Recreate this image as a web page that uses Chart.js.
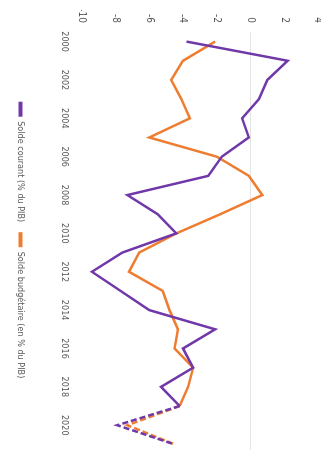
<!DOCTYPE html>
<html>
<head>
<meta charset="utf-8">
<script src="https://cdn.jsdelivr.net/npm/chart.js@4"></script>
<style>
  html, body { margin: 0; padding: 0; background: #fff; overflow: hidden; }
  body { width: 321px; height: 450px; position: relative; }
  /* the reference is turned a quarter clockwise */
  .rot {
    position: absolute; left: 0; top: 0;
    width: 460px; height: 321px;
    transform-origin: 0 0;
    transform: translate(321px, 0) rotate(90deg);
  }
  .box { position: absolute; left: 0; top: -12px; width: 460px; height: 333px; }
</style>
</head>
<body>
<div class="rot"><div class="box"><canvas id="soldes"></canvas></div></div>
<script>
const years = ["2000", "2001", "2002", "2003", "2004", "2005", "2006", "2007", "2008", "2009", "2010",
               "2011", "2012", "2013", "2014", "2015", "2016", "2017", "2018", "2019", "2020", "2021"];
const soldeCourant    = [-3.8, 2.2, 1.0, 0.5, -0.5, -0.1, -1.7, -2.5, -7.3, -5.5, -4.4,
                         -7.6, -9.4, -7.7, -6.0, -2.1, -4.0, -3.4, -5.3, -4.2, -7.9, -4.5];
const soldeBudgetaire = [-2.1, -4.0, -4.7, -4.1, -3.6, -6.0, -2.0, -0.1, 0.7, -1.8, -4.4,
                         -6.6, -7.2, -5.2, -4.8, -4.3, -4.5, -3.4, -3.7, -4.2, -7.3, -4.5];
const firstForecast = 19; // dashed from 2019 on

const family = "'Liberation Sans Narrow', 'DejaVu Sans Condensed', sans-serif";
const grey = "#595959";

const dashed = ctx => ctx.p0DataIndex >= firstForecast ? [6, 3] : undefined;

// legend sits a bit right of the canvas middle in the reference
const shiftLegend = {
  id: "shiftLegend",
  afterLayout(chart) {
    chart.legend.left += 8;
    chart.legend.right += 8;
  }
};

new Chart(document.getElementById("soldes"), {
  type: "line",
  data: {
    labels: years,
    datasets: [
      {
        label: "Solde courant (% du PIB)",
        data: soldeCourant,
        borderColor: "#7038a8",
        backgroundColor: "#7038a8",
        borderWidth: 2.5,
        pointRadius: 0,
        tension: 0,
        segment: { borderDash: dashed }
      },
      {
        label: "Solde budgétaire (en % du PIB)",
        data: soldeBudgetaire,
        borderColor: "#ee7d31",
        backgroundColor: "#ee7d31",
        borderWidth: 2.5,
        pointRadius: 0,
        tension: 0,
        segment: { borderDash: dashed }
      }
    ]
  },
  options: {
    responsive: true,
    maintainAspectRatio: false,
    animation: false,
    layout: { padding: { left: 10, right: 6, top: 0, bottom: 6 } },
    scales: {
      x: {
        offset: true,
        grid: { display: false },
        border: { display: false },
        ticks: {
          autoSkip: false,
          maxRotation: 0,
          padding: 4,
          font: { family: family, size: 9 },
          color: grey,
          callback: (v, i) => i % 2 === 0 ? years[i] : ""
        },
        afterFit: s => { s.height += 20; }
      },
      y: {
        min: -10,
        max: 4,
        border: { display: false },
        grid: {
          drawTicks: false,
          color: ctx => ctx.tick && ctx.tick.value === 0 ? "#e4e4e4" : "rgba(0,0,0,0)"
        },
        ticks: { stepSize: 2, padding: 9, font: { family: family, size: 10 }, color: grey },
        afterFit: s => { s.width = 22; }
      }
    },
    plugins: {
      legend: {
        position: "bottom",
        labels: {
          usePointStyle: true,
          pointStyle: "line",
          pointStyleWidth: 15,
          padding: 10,
          font: { family: family, size: 9 },
          color: grey,
          generateLabels: chart =>
            Chart.defaults.plugins.legend.labels.generateLabels(chart)
              .map(item => Object.assign(item, { lineWidth: 4 }))
        }
      },
      tooltip: { enabled: false }
    }
  },
  plugins: [shiftLegend]
});
</script>
</body>
</html>
